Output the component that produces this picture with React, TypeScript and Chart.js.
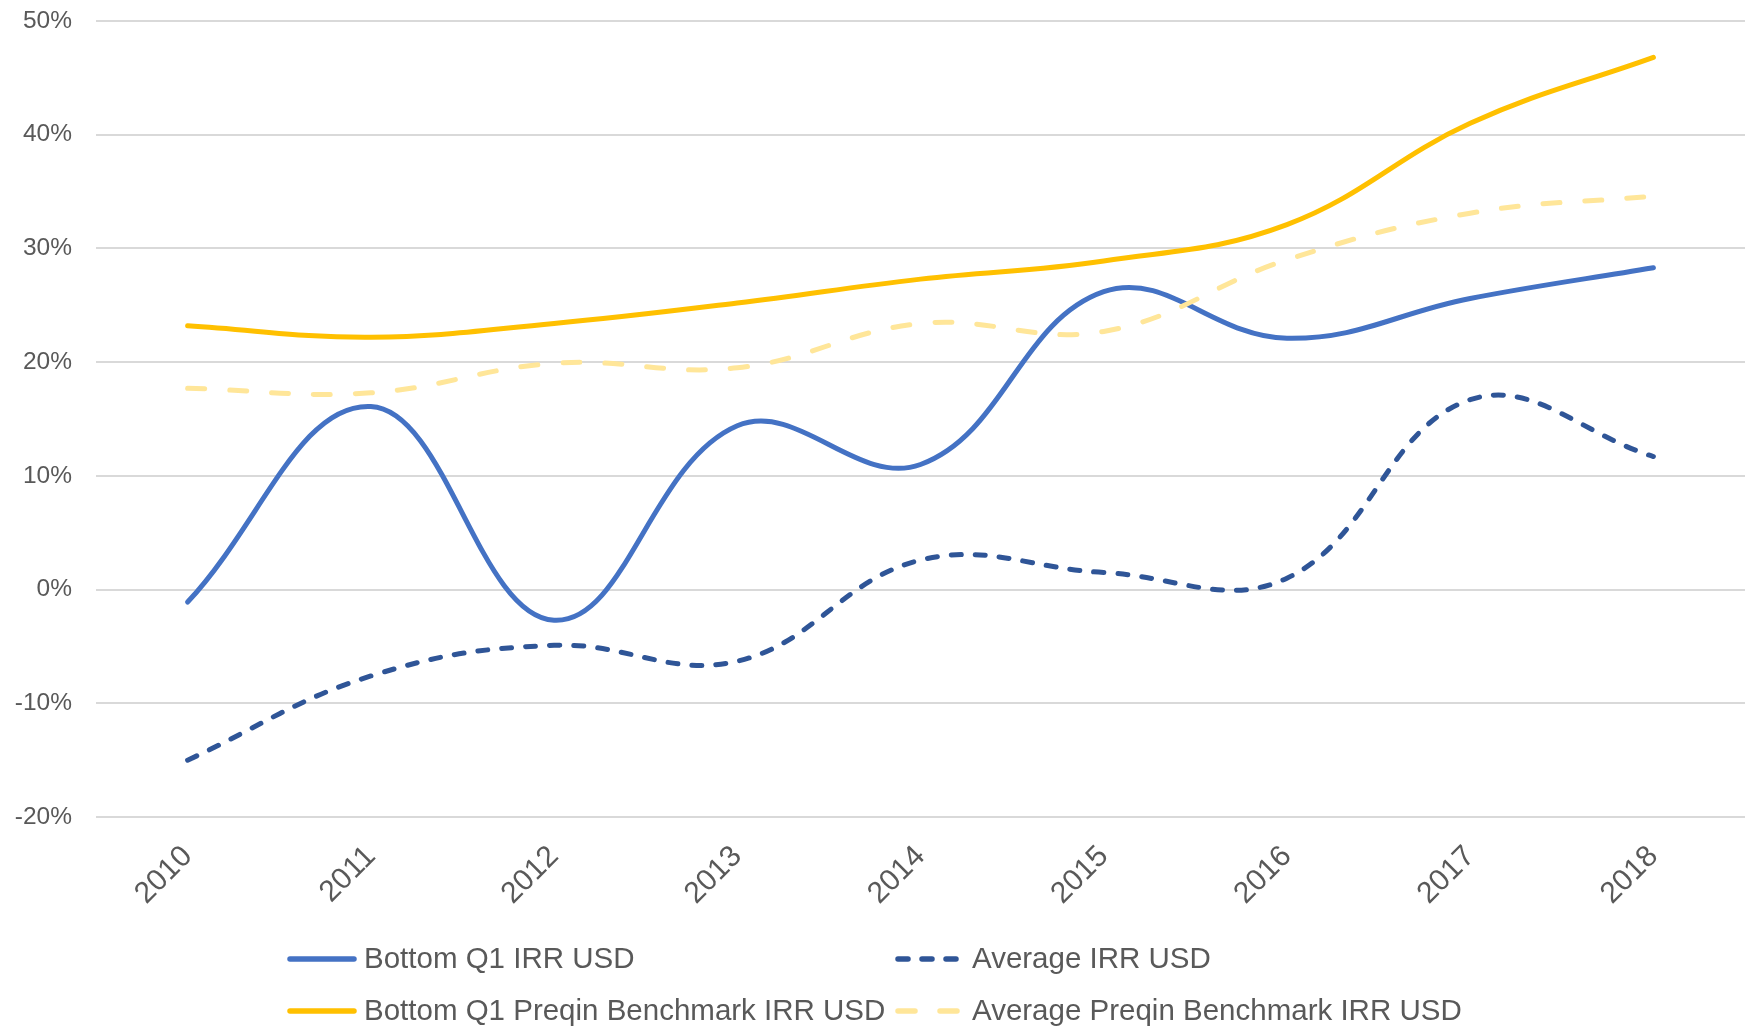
import React, { useEffect, useRef } from "react";
import { Chart, registerables } from "chart.js";

Chart.register(...registerables);

const years = ["2010", "2011", "2012", "2013", "2014", "2015", "2016", "2017", "2018"];
const bottomQ1Irr = [-1.1, 16.1, -2.7, 14.4, 11.0, 26.2, 22.1, 25.6, 28.3];
const averageIrr = [-15.0, -7.6, -4.9, -6.3, 2.6, 1.5, 1.0, 16.7, 11.7];
const bottomQ1Benchmark = [23.2, 22.2, 23.4, 25.2, 27.3, 28.9, 32.1, 41.0, 46.8];
const averageBenchmark = [17.7, 17.3, 19.9, 19.5, 23.4, 22.7, 29.0, 33.1, 34.6];
const yTicks = [-20, -10, 0, 10, 20, 30, 40, 50];

const seriesNames = [
  "Bottom Q1 IRR USD",
  "Average IRR USD",
  "Bottom Q1 Preqin Benchmark IRR USD",
  "Average Preqin Benchmark IRR USD",
];

const FONT = "'Liberation Sans', Arial, sans-serif";
const TEXT = "#595959";

const legendPlugin = {
  id: "gridLegend",
  afterDraw(chart: any) {
    const ctx = chart.ctx;
    const cols = [287, 895];
    const rows = [959, 1011];
    const lineLen = 70;
    chart.data.datasets.forEach((ds: any, i: number) => {
      const x = cols[i % 2];
      const y = rows[Math.floor(i / 2)];
      ctx.save();
      ctx.strokeStyle = ds.borderColor;
      ctx.lineWidth = 5.5;
      ctx.lineCap = "round";
      ctx.setLineDash(ds.borderDash || []);
      ctx.beginPath();
      ctx.moveTo(x + 3, y);
      ctx.lineTo(x + lineLen - 3, y);
      ctx.stroke();
      ctx.setLineDash([]);
      ctx.fillStyle = TEXT;
      ctx.font = `29.5px ${FONT}`;
      ctx.textBaseline = "middle";
      ctx.textAlign = "left";
      ctx.fillText(ds.label, x + lineLen + 7, y + 1);
      ctx.restore();
    });
  },
};

export default function App() {
  const ref = useRef<HTMLCanvasElement | null>(null);

  useEffect(() => {
    document.body.style.margin = "0";
    const canvas = ref.current;
    if (!canvas) return;
    const chart = new Chart(canvas, {
      type: "line",
      data: {
        labels: years,
        datasets: [
          {
            label: seriesNames[0],
            data: bottomQ1Irr,
            borderColor: "#4472C4",
            borderWidth: 5,
            tension: 0.4,
            pointRadius: 0,
            borderCapStyle: "round",
            order: 3,
          },
          {
            label: seriesNames[1],
            data: averageIrr,
            borderColor: "#2F5597",
            borderWidth: 5,
            borderDash: [10, 14],
            borderCapStyle: "round",
            tension: 0.4,
            pointRadius: 0,
            order: 2,
          },
          {
            label: seriesNames[2],
            data: bottomQ1Benchmark,
            borderColor: "#FFC000",
            borderWidth: 5,
            tension: 0.4,
            pointRadius: 0,
            borderCapStyle: "round",
            order: 1,
          },
          {
            label: seriesNames[3],
            data: averageBenchmark,
            borderColor: "#FFE699",
            borderWidth: 5,
            borderDash: [17, 25],
            borderCapStyle: "round",
            tension: 0.4,
            pointRadius: 0,
            order: 0,
          },
        ],
      },
      options: {
        responsive: false,
        animation: false,
        layout: { padding: { left: 0, right: 2, top: 21, bottom: 113 } },
        plugins: {
          legend: { display: false },
          tooltip: { enabled: false },
        },
        scales: {
          x: {
            offset: true,
            grid: { display: false, drawTicks: false },
            border: { display: false },
            ticks: {
              color: TEXT,
              font: { family: FONT, size: 30 },
              minRotation: 45,
              maxRotation: 45,
              padding: 22,
            },
            afterFit: (scale: any) => {
              scale.height = 100;
            },
          },
          y: {
            min: -20,
            max: 50,
            afterBuildTicks: (scale: any) => {
              scale.ticks = yTicks.map((v) => ({ value: v }));
            },
            grid: {
              color: "#D9D9D9",
              lineWidth: 2,
              drawTicks: true,
              tickLength: 24,
              tickColor: "rgba(0,0,0,0)",
            },
            border: { display: false },
            ticks: {
              color: TEXT,
              font: { family: FONT, size: 24.5 },
              padding: 0,
              callback: (v: any) => `${v}%`,
            },
            afterFit: (scale: any) => {
              scale.width = 96;
            },
          },
        },
      },
      plugins: [legendPlugin],
    });
    return () => chart.destroy();
  }, []);

  return (
    <div style={{ width: 1747, height: 1030, background: "#fff" }}>
      <canvas ref={ref} width={1747} height={1030} style={{ display: "block" }} />
    </div>
  );
}
